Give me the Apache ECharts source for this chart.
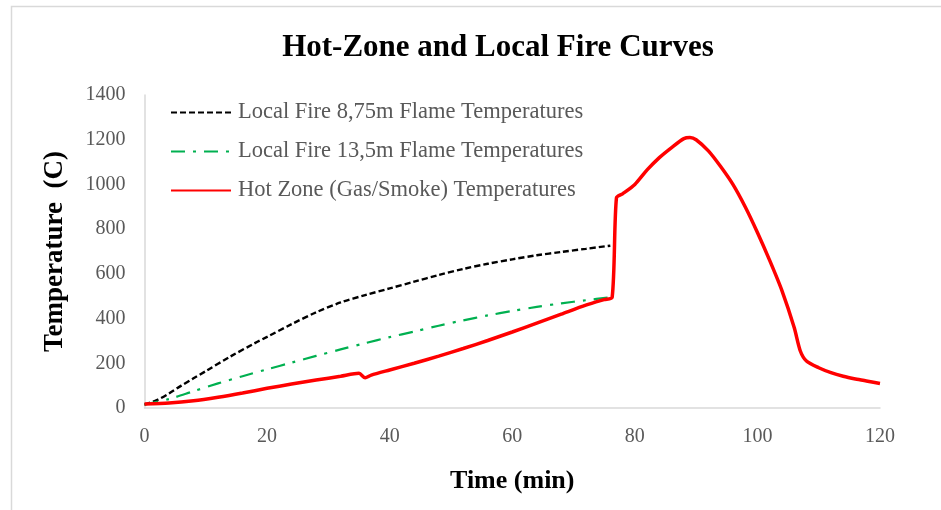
<!DOCTYPE html>
<html>
<head>
<meta charset="utf-8">
<title>Hot-Zone and Local Fire Curves</title>
<script src="https://cdn.jsdelivr.net/npm/echarts@6/dist/echarts.min.js"></script>
<style>
  html, body { margin: 0; padding: 0; background: #ffffff; }
  #chart { width: 941px; height: 510px; }
</style>
</head>
<body>
<div id="chart"></div>
<script>
// Local fire, 8.75 m flame height (min, °C)
const fire875Time = [0, 2, 4, 6, 8, 10, 14, 18, 20, 24, 28, 32, 36, 40, 44, 48, 52, 56, 60, 64, 68, 72, 76];
const fire875Temp = [15, 35, 65, 100, 133, 165, 230, 290, 318, 375, 428, 472, 505, 535, 565, 595, 622, 645, 665, 683, 698, 712, 726];

// Local fire, 13.5 m flame height (min, °C)
const fire135Time = [0, 4, 8, 12, 16, 20, 24, 28, 32, 36, 40, 44, 48, 52, 56, 60, 64, 68, 72, 76];
const fire135Temp = [15, 40, 75, 110, 142, 173, 203, 233, 262, 290, 317, 342, 368, 392, 414, 434, 452, 468, 482, 495];

// Hot zone gas / smoke temperature (min, °C)
const hotZoneTime = [0, 4, 8, 12, 16, 20, 24, 28, 32, 35, 36, 37, 40, 44, 48, 52, 56, 60, 64, 68, 72, 75, 76.3, 77, 78, 80, 82, 84, 86, 88, 89, 90, 92, 94, 96, 98, 100, 102, 104, 106, 107, 108, 110, 112, 114, 116, 118, 120];
const hotZoneTemp = [18, 22, 32, 48, 67, 88, 107, 125, 142, 155, 135, 147, 170, 200, 232, 266, 302, 340, 380, 420, 460, 485, 495, 940, 958, 1000, 1065, 1120, 1165, 1205, 1210, 1200, 1150, 1080, 1000, 900, 785, 660, 525, 360, 255, 210, 180, 158, 142, 130, 120, 110];

// Axis ticks
const xTicks = [0, 20, 40, 60, 80, 100, 120];
const yTicks = [0, 200, 400, 600, 800, 1000, 1200, 1400];

const seriesNames = [
  'Local Fire 8,75m Flame Temperatures',
  'Local Fire 13,5m Flame Temperatures',
  'Hot Zone (Gas/Smoke) Temperatures'
];

function pairs(xs, ys) {
  return xs.map((x, i) => [x, ys[i]]);
}

const serif = '"Liberation Serif", "Times New Roman", serif';
const chart = echarts.init(document.getElementById('chart'));

chart.setOption({
  animation: false,
  backgroundColor: '#ffffff',
  title: {
    text: 'Hot-Zone and Local Fire Curves',
    left: 493,
    top: 27,
    textAlign: 'center',
    textStyle: { fontFamily: serif, fontWeight: 'bold', fontSize: 31, color: '#000000' }
  },
  graphic: [{
    type: 'rect',
    shape: { x: 11.5, y: 6.5, width: 1200, height: 1200 },
    style: { fill: 'none', stroke: '#d9d9d9', lineWidth: 1.5 },
    silent: true
  }],
  legend: {
    orient: 'vertical',
    left: 170,
    top: 101,
    padding: 0,
    itemWidth: 60,
    itemHeight: 14,
    itemGap: 16,
    itemStyle: { opacity: 0 },
    textStyle: { fontFamily: serif, fontSize: 22.5, color: '#595959', padding: [0, 0, 0, 2] },
    data: seriesNames
  },
  grid: { left: 144.5, right: 61, top: 95, bottom: 102 },
  xAxis: {
    type: 'value',
    min: xTicks[0],
    max: xTicks[xTicks.length - 1],
    interval: 20,
    name: 'Time (min)',
    nameLocation: 'middle',
    nameGap: 60,
    nameTextStyle: { fontFamily: serif, fontWeight: 'bold', fontSize: 26, color: '#000000' },
    axisLine: { show: true, lineStyle: { color: '#d9d9d9', width: 1.5 } },
    axisTick: { show: false },
    splitLine: { show: false },
    axisLabel: { fontFamily: serif, fontSize: 20, color: '#595959', margin: 19 }
  },
  yAxis: {
    type: 'value',
    min: yTicks[0],
    max: yTicks[yTicks.length - 1],
    interval: 200,
    name: 'Temperature  (C)',
    nameLocation: 'middle',
    nameGap: 76,
    nameRotate: 90,
    nameTextStyle: { fontFamily: serif, fontWeight: 'bold', fontSize: 27, color: '#000000' },
    axisLine: { show: true, lineStyle: { color: '#d9d9d9', width: 1.5 } },
    axisTick: { show: false },
    splitLine: { show: false },
    axisLabel: {
      fontFamily: serif, fontSize: 20, color: '#595959', margin: 19,
      formatter: (v) => String(v)
    }
  },
  series: [
    {
      name: seriesNames[0],
      type: 'line',
      data: pairs(fire875Time, fire875Temp),
      smooth: 0.3,
      showSymbol: false,
      lineStyle: { color: '#000000', width: 2.4, type: [6, 3] },
      itemStyle: { color: '#000000' },
      z: 2
    },
    {
      name: seriesNames[1],
      type: 'line',
      data: pairs(fire135Time, fire135Temp),
      smooth: 0.3,
      showSymbol: false,
      lineStyle: { color: '#00b050', width: 2.2, type: [14, 8, 3, 8] },
      itemStyle: { color: '#00b050' },
      z: 2
    },
    {
      name: seriesNames[2],
      type: 'line',
      data: pairs(hotZoneTime, hotZoneTemp),
      smooth: 0.25,
      showSymbol: false,
      lineStyle: { color: '#ff0000', width: 3.5, type: 'solid' },
      itemStyle: { color: '#ff0000' },
      z: 3
    }
  ]
});
</script>
</body>
</html>
